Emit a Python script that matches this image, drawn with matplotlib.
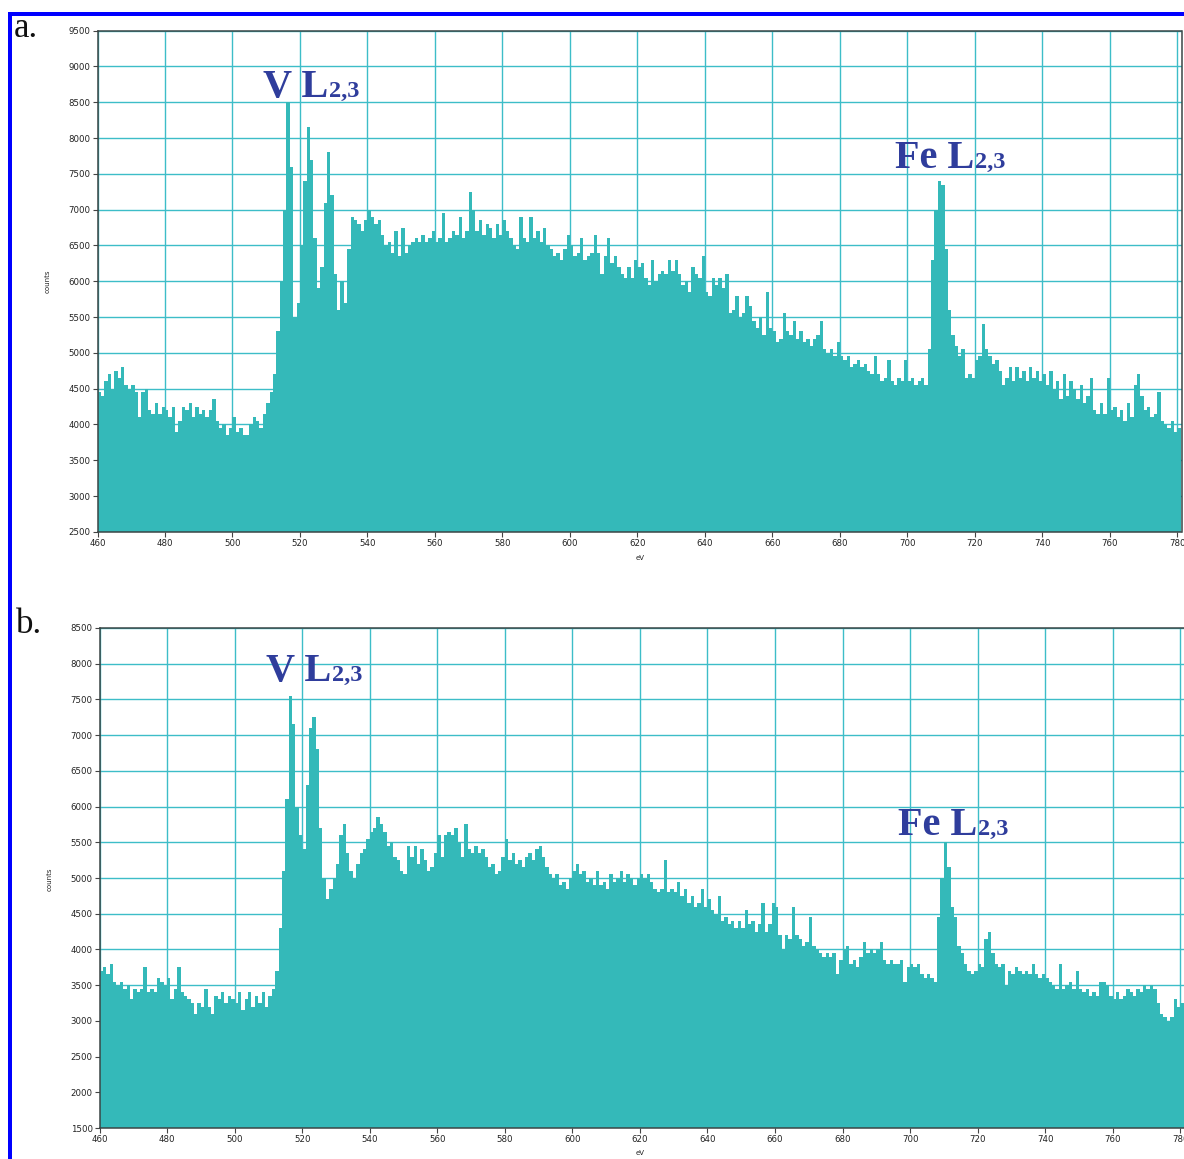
import numpy as np
import matplotlib
matplotlib.use("Agg")
import matplotlib.pyplot as plt
from matplotlib.patches import Rectangle

# Energy-loss bins: 1 eV wide, 460 ... 781 eV
energy_edges = np.arange(460, 782)

# Spectrum a (counts per bin)
counts_a = [
    4450, 4400, 4600, 4700, 4500, 4750, 4650, 4800, 4550, 4500,   # 460
    4550, 4450, 4100, 4450, 4500, 4200, 4150, 4300, 4150, 4250,   # 470
    4200, 4100, 4250, 3900, 4050, 4250, 4200, 4300, 4100, 4250,   # 480
    4150, 4200, 4100, 4200, 4350, 4050, 3950, 4000, 3850, 3950,   # 490
    4100, 3900, 3950, 3850, 3850, 4000, 4100, 4050, 3950, 4150,   # 500
    4300, 4450, 4700, 5300, 6000, 7000, 8500, 7600, 5500, 5700,   # 510
    6500, 7400, 8150, 7700, 6600, 5900, 6200, 7100, 7800, 7200,   # 520
    6100, 5600, 6000, 5700, 6450, 6900, 6850, 6800, 6700, 6850,   # 530
    7000, 6900, 6800, 6850, 6650, 6500, 6550, 6400, 6700, 6350,   # 540
    6750, 6400, 6500, 6550, 6600, 6550, 6650, 6550, 6600, 6700,   # 550
    6550, 6600, 6950, 6550, 6600, 6700, 6650, 6900, 6600, 6700,   # 560
    7250, 7000, 6700, 6850, 6650, 6800, 6750, 6600, 6800, 6650,   # 570
    6850, 6700, 6600, 6500, 6450, 6900, 6600, 6550, 6900, 6600,   # 580
    6700, 6550, 6750, 6500, 6450, 6350, 6400, 6300, 6450, 6650,   # 590
    6500, 6350, 6400, 6600, 6300, 6350, 6400, 6650, 6400, 6100,   # 600
    6350, 6600, 6250, 6350, 6200, 6100, 6050, 6200, 6050, 6300,   # 610
    6200, 6250, 6050, 5950, 6300, 6000, 6100, 6150, 6100, 6300,   # 620
    6150, 6300, 6100, 5950, 6000, 5850, 6200, 6100, 6050, 6350,   # 630
    5850, 5800, 6050, 5950, 6050, 5900, 6100, 5550, 5600, 5800,   # 640
    5500, 5550, 5800, 5650, 5450, 5350, 5500, 5250, 5850, 5350,   # 650
    5300, 5150, 5200, 5550, 5300, 5250, 5450, 5200, 5300, 5150,   # 660
    5200, 5100, 5200, 5250, 5450, 5050, 5000, 5050, 4950, 5150,   # 670
    4950, 4900, 4950, 4800, 4850, 4900, 4800, 4850, 4750, 4700,   # 680
    4950, 4700, 4600, 4650, 4900, 4600, 4550, 4650, 4600, 4900,   # 690
    4600, 4650, 4550, 4600, 4650, 4550, 5050, 6300, 7000, 7400,   # 700
    7350, 6450, 5600, 5250, 5100, 4950, 5050, 4650, 4700, 4650,   # 710
    4900, 4950, 5400, 5050, 4950, 4850, 4900, 4750, 4550, 4650,   # 720
    4800, 4600, 4800, 4650, 4750, 4600, 4800, 4650, 4750, 4600,   # 730
    4700, 4550, 4750, 4500, 4600, 4350, 4700, 4400, 4600, 4500,   # 740
    4350, 4550, 4300, 4400, 4650, 4200, 4150, 4300, 4150, 4650,   # 750
    4200, 4250, 4100, 4200, 4050, 4300, 4100, 4550, 4700, 4400,   # 760
    4200, 4250, 4100, 4150, 4450, 4050, 4000, 3950, 4050, 3900,   # 770
    3950,                                                         # 780
]

# Spectrum b (counts per bin)
counts_b = [
    3700, 3750, 3650, 3800, 3550, 3500, 3550, 3450, 3500, 3300,   # 460
    3450, 3400, 3450, 3750, 3400, 3450, 3400, 3600, 3550, 3500,   # 470
    3600, 3300, 3450, 3750, 3400, 3350, 3300, 3250, 3100, 3250,   # 480
    3200, 3450, 3200, 3100, 3350, 3300, 3400, 3250, 3350, 3300,   # 490
    3250, 3400, 3150, 3300, 3400, 3200, 3350, 3250, 3400, 3200,   # 500
    3350, 3450, 3700, 4300, 5100, 6100, 7550, 7150, 6000, 5600,   # 510
    5400, 6300, 7100, 7250, 6800, 5700, 5000, 4700, 4850, 5000,   # 520
    5200, 5600, 5750, 5350, 5100, 5000, 5200, 5350, 5400, 5550,   # 530
    5650, 5700, 5850, 5750, 5650, 5450, 5500, 5300, 5250, 5100,   # 540
    5050, 5450, 5300, 5450, 5200, 5400, 5250, 5100, 5150, 5350,   # 550
    5600, 5300, 5600, 5650, 5600, 5700, 5500, 5300, 5750, 5400,   # 560
    5350, 5450, 5350, 5400, 5300, 5150, 5200, 5050, 5100, 5300,   # 570
    5550, 5250, 5350, 5200, 5250, 5150, 5300, 5350, 5250, 5400,   # 580
    5450, 5300, 5150, 5050, 5000, 5050, 4900, 4950, 4850, 5000,   # 590
    5100, 5200, 5050, 5100, 4950, 5000, 4900, 5100, 4900, 4950,   # 600
    4850, 5050, 4950, 5000, 5100, 4950, 5050, 5000, 4900, 5000,   # 610
    5050, 5000, 5050, 4950, 4850, 4800, 4850, 5250, 4800, 4850,   # 620
    4800, 4950, 4750, 4850, 4650, 4750, 4600, 4650, 4850, 4600,   # 630
    4700, 4550, 4500, 4750, 4400, 4450, 4350, 4400, 4300, 4400,   # 640
    4300, 4550, 4350, 4400, 4250, 4350, 4650, 4250, 4350, 4650,   # 650
    4600, 4200, 4000, 4200, 4150, 4600, 4200, 4150, 4050, 4100,   # 660
    4450, 4050, 4000, 3950, 3900, 3950, 3900, 3950, 3650, 3850,   # 670
    4000, 4050, 3800, 3850, 3750, 3900, 4100, 3950, 4000, 3950,   # 680
    4000, 4100, 3850, 3800, 3850, 3800, 3800, 3850, 3550, 3750,   # 690
    3800, 3750, 3800, 3650, 3600, 3650, 3600, 3550, 4450, 5000,   # 700
    5500, 5150, 4600, 4450, 4050, 3950, 3800, 3700, 3650, 3700,   # 710
    3800, 3750, 4150, 4250, 3950, 3800, 3750, 3800, 3500, 3700,   # 720
    3650, 3750, 3700, 3650, 3700, 3650, 3800, 3650, 3600, 3650,   # 730
    3600, 3550, 3500, 3450, 3800, 3450, 3500, 3550, 3450, 3700,   # 740
    3450, 3400, 3450, 3350, 3400, 3350, 3550, 3550, 3500, 3350,   # 750
    3300, 3400, 3300, 3350, 3450, 3400, 3350, 3450, 3400, 3500,   # 760
    3450, 3500, 3450, 3250, 3100, 3050, 3000, 3050, 3300, 3200,   # 770
    3250,                                                         # 780
]

x_ticks = list(range(460, 781, 20))
panel_tags = ["a.", "b."]
element_labels = [("V L", "2,3"), ("Fe L", "2,3")]

FILL = "#34b9b9"
GRID = "#3dbdc8"
SPINE = "#3a4545"
LABEL_BLUE = "#2f3d9c"

W, H = 1184, 1159
fig = plt.figure(figsize=(W / 100, H / 100), dpi=100)


def px_rect(left, top, right, bottom):
    return [left / W, 1 - bottom / H, (right - left) / W, (bottom - top) / H]


def fx(x):
    return x / W


def fy(y):
    return 1 - y / H


def draw_panel(ax, counts, ymin, ymax, xmax):
    ax.stairs(counts, energy_edges, baseline=0, fill=True, color=FILL,
              lw=0, zorder=2)
    ax.set_xlim(460, xmax)
    ax.set_ylim(ymin, ymax)
    ax.set_xticks(x_ticks)
    ax.set_yticks(range(ymin, ymax + 1, 500))
    ax.set_axisbelow(True)
    ax.grid(True, color=GRID, lw=1.0, zorder=0)
    ax.tick_params(direction="out", length=3.5, width=0.8, color="#444444",
                   labelsize=6.2, labelcolor="#222222", pad=1.5)
    for s in ax.spines.values():
        s.set_color(SPINE)
        s.set_linewidth(1.1)
        s.set_zorder(3)


ax_a = fig.add_axes(px_rect(97.5, 30.7, 1181.5, 531.8))
draw_panel(ax_a, counts_a, 2500, 9500, 781.2)
ax_b = fig.add_axes(px_rect(99.5, 628, 1185, 1128))
draw_panel(ax_b, counts_b, 1500, 8500, 781.4)

# axis titles
for (xc, yc), (xe, ye) in [((48, 281), (640, 558)), ((50, 879), (640, 1153))]:
    fig.text(fx(xc), fy(yc), "counts", rotation=90, ha="center", va="center",
             fontsize=5, color="#222222")
    fig.text(fx(xe), fy(ye), "eV", ha="center", va="center",
             fontsize=5, color="#222222")

# panel tags
for tag, (x, y) in zip(panel_tags, [(14, 37), (16, 633)]):
    fig.text(fx(x), fy(y), tag, ha="left", va="baseline", fontsize=25,
             family="Liberation Serif", color="#111111")

# edge labels: large element symbol followed by a smaller edge index
# sitting on the same baseline
label_spots = [
    (element_labels[0], 263, 97),
    (element_labels[1], 895, 168),
    (element_labels[0], 266, 681),
    (element_labels[1], 898, 835),
]
renderer = fig.canvas.get_renderer()
for (main, sub), x, y in label_spots:
    t1 = fig.text(fx(x), fy(y), main, ha="left", va="baseline", fontsize=29,
                  family="Liberation Serif", fontweight="bold",
                  color=LABEL_BLUE, zorder=5)
    x_end = t1.get_window_extent(renderer=renderer).x1
    fig.text((x_end + 1) / W, fy(y), sub, ha="left", va="baseline",
             fontsize=17.5, family="Liberation Serif", fontweight="bold",
             color=LABEL_BLUE, zorder=5)

# blue frame
frame = Rectangle((fx(9.5), fy(1175)), (1195 - 9.5) / W, (1175 - 14) / H,
                  transform=fig.transFigure, fill=False, ec="#0000ff",
                  lw=4 * 0.72, clip_on=False)
fig.patches.append(frame)

fig.savefig("out.png", dpi=100)
